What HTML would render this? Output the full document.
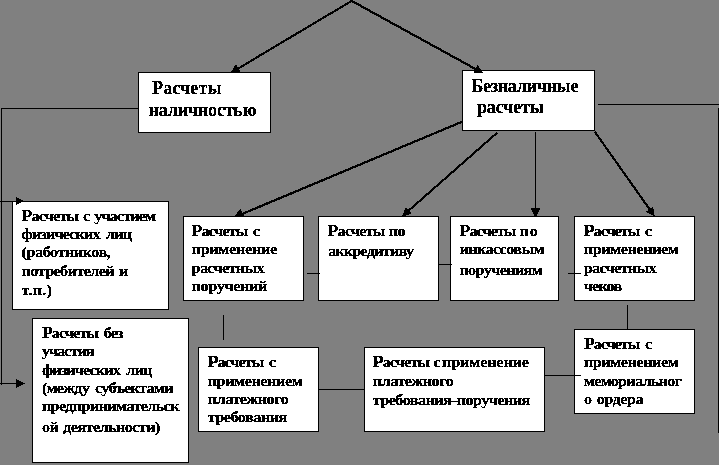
<!DOCTYPE html>
<html lang="ru"><head><meta charset="utf-8"><title>Схема расчетов</title>
<style>
html,body{margin:0;padding:0;background:#808080;}
body{width:719px;height:465px;overflow:hidden;}
svg{display:block;}
text{font-family:"Liberation Serif",serif;font-weight:bold;fill:#000;stroke:#000;}
</style></head><body>
<svg width="719" height="465" viewBox="0 0 719 465">
<defs><filter id="bw" x="0" y="0" width="719" height="465" filterUnits="userSpaceOnUse" color-interpolation-filters="sRGB"><feComponentTransfer><feFuncA type="discrete" tableValues="0 1"/></feComponentTransfer></filter><filter id="bwt" x="0" y="0" width="719" height="465" filterUnits="userSpaceOnUse" color-interpolation-filters="sRGB"><feComponentTransfer><feFuncA type="discrete" tableValues="0 0 0 1 1"/></feComponentTransfer></filter></defs>
<rect x="0" y="0" width="719" height="465" fill="#808080"/>
<g filter="url(#bw)">
<line x1="351.3" y1="1.2" x2="238.38" y2="68.39" stroke="#000" stroke-width="2.15"/><polygon points="230.30,73.20 235.87,64.18 240.88,72.60" fill="#000"/>
<line x1="462" y1="121.8" x2="242.79" y2="213.73" stroke="#000" stroke-width="2.15"/><polygon points="233.20,217.75 240.55,208.38 245.03,219.08" fill="#000"/>
<line x1="497.4" y1="132.5" x2="408.75" y2="210.55" stroke="#000" stroke-width="2.15"/><polygon points="402.00,216.50 405.85,207.25 411.66,213.85" fill="#000"/>
<line x1="594.6" y1="131.5" x2="649.50" y2="209.15" stroke="#000" stroke-width="2.15"/><polygon points="654.70,216.50 645.91,211.69 653.10,206.61" fill="#000"/>
<line x1="535.5" y1="132" x2="535.50" y2="208.00" stroke="#000" stroke-width="1"/><polygon points="535.50,218.50 530.80,208.00 540.20,208.00" fill="#000"/>
<rect x="1" y="108" width="138" height="1" fill="#000"/>
<rect x="1" y="108" width="1" height="277" fill="#000"/>
<rect x="598" y="104" width="121" height="1" fill="#000"/>
<rect x="718" y="108" width="1" height="325" fill="#000"/>
<rect x="223" y="315" width="1" height="25" fill="#000"/>
<rect x="319" y="389" width="45" height="1" fill="#000"/>
<rect x="627" y="305" width="1" height="24" fill="#000"/>
</g>
<g shape-rendering="crispEdges">
<rect x="138.5" y="72.5" width="132" height="60" fill="#fff" stroke="#000" stroke-width="1"/>
<rect x="462.5" y="70.5" width="132" height="60" fill="#fff" stroke="#000" stroke-width="1"/>
<rect x="12.5" y="201.5" width="156" height="108" fill="#fff" stroke="#000" stroke-width="1"/>
<rect x="32.5" y="318.5" width="156" height="144" fill="#fff" stroke="#000" stroke-width="1"/>
<rect x="183.5" y="216.5" width="120" height="84" fill="#fff" stroke="#000" stroke-width="1"/>
<rect x="318.5" y="216.5" width="120" height="84" fill="#fff" stroke="#000" stroke-width="1"/>
<rect x="450.5" y="216.5" width="108" height="84" fill="#fff" stroke="#000" stroke-width="1"/>
<rect x="574.5" y="216.5" width="120" height="84" fill="#fff" stroke="#000" stroke-width="1"/>
<rect x="198.5" y="347.5" width="120" height="84" fill="#fff" stroke="#000" stroke-width="1"/>
<rect x="364.5" y="347.5" width="180" height="84" fill="#fff" stroke="#000" stroke-width="1"/>
<rect x="574.5" y="329.5" width="120" height="84" fill="#fff" stroke="#000" stroke-width="1"/>
</g>
<g filter="url(#bw)">
<line x1="351" y1="0.5" x2="475.49" y2="68.96" stroke="#000" stroke-width="2.15"/><polygon points="483.20,73.20 473.37,72.82 477.61,65.10" fill="#000"/>
<rect x="307" y="273" width="13" height="1" fill="#000"/>
<rect x="439" y="264" width="13" height="1" fill="#000"/>
<rect x="451" y="401" width="7" height="1" fill="#000"/>
<rect x="568" y="273" width="13" height="1" fill="#000"/>
<rect x="545" y="375" width="36" height="1" fill="#000"/>
<rect x="0" y="201" width="17" height="1" fill="#000"/>
<polygon points="15.9,196.7 23.7,200.9 15.9,205.1" fill="#000"/>
<rect x="0" y="383" width="17" height="1" fill="#000"/>
<polygon points="16,379 25,383.5 16,388" fill="#000"/>
</g>
<g filter="url(#bwt)">
<text transform="translate(152.00,93.95) scale(1.02,1)" font-size="17.8" textLength="68.24" lengthAdjust="spacing" word-spacing="2.5" stroke-width="0.38"><tspan font-size="17.8" stroke-width="0.38">Р</tspan>асчеты</text>
<text transform="translate(148.50,115.95) scale(1.02,1)" font-size="17.8" textLength="105.98" lengthAdjust="spacing" word-spacing="2.5" stroke-width="0.38">наличностью</text>
<text transform="translate(471.40,91.95) scale(1.02,1)" font-size="17.8" textLength="105.00" lengthAdjust="spacing" word-spacing="2.5" stroke-width="0.38"><tspan font-size="17.8" stroke-width="0.38">Б</tspan>езналичные</text>
<text transform="translate(476.90,112.95) scale(1.02,1)" font-size="17.8" textLength="65.78" lengthAdjust="spacing" word-spacing="2.5" stroke-width="0.38">расчеты</text>
<text transform="translate(21.60,220.95) scale(1.08,1)" font-size="15" textLength="124.44" lengthAdjust="spacing" word-spacing="1.6" stroke-width="0.38"><tspan font-size="16.5" stroke-width="0.38">Р</tspan>асчеты с участием</text>
<text transform="translate(21.60,238.95) scale(1.08,1)" font-size="15" textLength="102.22" lengthAdjust="spacing" word-spacing="3" stroke-width="0.38">физических лиц</text>
<text transform="translate(21.60,256.95) scale(1.08,1)" font-size="15" textLength="82.59" lengthAdjust="spacing" word-spacing="2.5" stroke-width="0.38">(работников,</text>
<text transform="translate(21.60,275.95) scale(1.08,1)" font-size="15" textLength="98.89" lengthAdjust="spacing" word-spacing="1.5" stroke-width="0.38">потребителей и</text>
<text transform="translate(21.60,294.95) scale(1.08,1)" font-size="15" textLength="27.96" lengthAdjust="spacing" word-spacing="2.5" stroke-width="0.38">т.п.)</text>
<text transform="translate(41.90,337.95) scale(1.08,1)" font-size="15" textLength="75.56" lengthAdjust="spacing" word-spacing="2.5" stroke-width="0.38"><tspan font-size="16.5" stroke-width="0.38">Р</tspan>асчеты без</text>
<text transform="translate(41.90,355.95) scale(1.08,1)" font-size="15" textLength="48.70" lengthAdjust="spacing" word-spacing="2.5" stroke-width="0.38">участия</text>
<text transform="translate(41.90,374.95) scale(1.08,1)" font-size="15" textLength="102.22" lengthAdjust="spacing" word-spacing="3" stroke-width="0.38">физических лиц</text>
<text transform="translate(41.90,392.95) scale(1.08,1)" font-size="15" textLength="121.85" lengthAdjust="spacing" word-spacing="2.5" stroke-width="0.38">(между субъектами</text>
<text transform="translate(41.90,410.95) scale(1.08,1)" font-size="15" textLength="127.41" lengthAdjust="spacing" word-spacing="2.5" stroke-width="0.38">предпринимательск</text>
<text transform="translate(41.90,431.95) scale(1.08,1)" font-size="15" textLength="109.63" lengthAdjust="spacing" word-spacing="1.5" stroke-width="0.38">ой деятельности)</text>
<text transform="translate(191.60,235.95) scale(1.08,1)" font-size="15" textLength="63.33" lengthAdjust="spacing" word-spacing="2.5" stroke-width="0.38"><tspan font-size="16.5" stroke-width="0.38">Р</tspan>асчеты с</text>
<text transform="translate(191.60,253.95) scale(1.08,1)" font-size="15" textLength="79.26" lengthAdjust="spacing" word-spacing="2.5" stroke-width="0.38">применение</text>
<text transform="translate(191.60,272.95) scale(1.08,1)" font-size="15" textLength="67.59" lengthAdjust="spacing" word-spacing="2.5" stroke-width="0.38">расчетных</text>
<text transform="translate(191.60,290.95) scale(1.08,1)" font-size="15" textLength="70.19" lengthAdjust="spacing" word-spacing="2.5" stroke-width="0.38">поручений</text>
<text transform="translate(327.50,235.95) scale(1.08,1)" font-size="15" textLength="72.22" lengthAdjust="spacing" word-spacing="0.8" stroke-width="0.38"><tspan font-size="16.5" stroke-width="0.38">Р</tspan>асчеты по</text>
<text transform="translate(327.90,255.95) scale(1.08,1)" font-size="15" textLength="79.72" lengthAdjust="spacing" word-spacing="2.5" stroke-width="0.38">аккредитиву</text>
<text transform="translate(459.60,235.95) scale(1.08,1)" font-size="15" textLength="52.69" lengthAdjust="spacing" word-spacing="2.5" stroke-width="0.38"><tspan font-size="16.5" stroke-width="0.38">Р</tspan>асчеты</text>
<text transform="translate(519.50,235.95) scale(1.08,1)" font-size="15" textLength="17.04" lengthAdjust="spacing" word-spacing="2.5" stroke-width="0.38">по</text>
<text transform="translate(459.40,253.95) scale(1.08,1)" font-size="15" textLength="78.80" lengthAdjust="spacing" word-spacing="2.5" stroke-width="0.38">инкассовым</text>
<text transform="translate(459.40,274.95) scale(1.08,1)" font-size="15" textLength="77.22" lengthAdjust="spacing" word-spacing="2.5" stroke-width="0.38">поручениям</text>
<text transform="translate(583.80,235.95) scale(1.08,1)" font-size="15" textLength="63.15" lengthAdjust="spacing" word-spacing="2.5" stroke-width="0.38"><tspan font-size="16.5" stroke-width="0.38">Р</tspan>асчеты с</text>
<text transform="translate(583.80,253.95) scale(1.08,1)" font-size="15" textLength="88.06" lengthAdjust="spacing" word-spacing="2.5" stroke-width="0.38">применением</text>
<text transform="translate(583.80,272.95) scale(1.08,1)" font-size="15" textLength="67.31" lengthAdjust="spacing" word-spacing="2.5" stroke-width="0.38">расчетных</text>
<text transform="translate(583.80,290.95) scale(1.08,1)" font-size="15" textLength="35.56" lengthAdjust="spacing" word-spacing="2.5" stroke-width="0.38">чеков</text>
<text transform="translate(207.70,366.95) scale(1.08,1)" font-size="15" textLength="63.15" lengthAdjust="spacing" word-spacing="2.5" stroke-width="0.38"><tspan font-size="16.5" stroke-width="0.38">Р</tspan>асчеты с</text>
<text transform="translate(207.70,385.95) scale(1.08,1)" font-size="15" textLength="87.96" lengthAdjust="spacing" word-spacing="2.5" stroke-width="0.38">применением</text>
<text transform="translate(207.70,403.95) scale(1.08,1)" font-size="15" textLength="75.09" lengthAdjust="spacing" word-spacing="2.5" stroke-width="0.38">платежного</text>
<text transform="translate(207.70,421.95) scale(1.08,1)" font-size="15" textLength="73.70" lengthAdjust="spacing" word-spacing="2.5" stroke-width="0.38">требования</text>
<text transform="translate(372.70,366.95) scale(1.08,1)" font-size="15" textLength="52.96" lengthAdjust="spacing" word-spacing="2.5" stroke-width="0.38"><tspan font-size="16.5" stroke-width="0.38">Р</tspan>асчеты</text>
<text transform="translate(433.60,366.95) scale(1.08,1)" font-size="15" textLength="5.09" lengthAdjust="spacing" word-spacing="2.5" stroke-width="0.38">с</text>
<text transform="translate(442.00,366.95) scale(1.08,1)" font-size="15" textLength="80.56" lengthAdjust="spacing" word-spacing="2.5" stroke-width="0.38">применение</text>
<text transform="translate(372.70,385.95) scale(1.08,1)" font-size="15" textLength="75.09" lengthAdjust="spacing" word-spacing="2.5" stroke-width="0.38">платежного</text>
<text transform="translate(372.70,404.95) scale(1.08,1)" font-size="15" textLength="73.33" lengthAdjust="spacing" word-spacing="2.5" stroke-width="0.38">требования</text>
<text transform="translate(456.70,404.95) scale(1.08,1)" font-size="15" textLength="68.24" lengthAdjust="spacing" word-spacing="2.5" stroke-width="0.38">поручения</text>
<text transform="translate(583.90,348.95) scale(1.08,1)" font-size="15" textLength="63.15" lengthAdjust="spacing" word-spacing="2.5" stroke-width="0.38"><tspan font-size="16.5" stroke-width="0.38">Р</tspan>асчеты с</text>
<text transform="translate(583.90,366.95) scale(1.08,1)" font-size="15" textLength="87.78" lengthAdjust="spacing" word-spacing="2.5" stroke-width="0.38">применением</text>
<text transform="translate(583.90,385.95) scale(1.08,1)" font-size="15" textLength="90.74" lengthAdjust="spacing" word-spacing="2.5" stroke-width="0.38">мемориальног</text>
<text transform="translate(583.90,403.95) scale(1.08,1)" font-size="15" textLength="55.19" lengthAdjust="spacing" word-spacing="1.5" stroke-width="0.38">о ордера</text>
</g>
</svg>
</body></html>
